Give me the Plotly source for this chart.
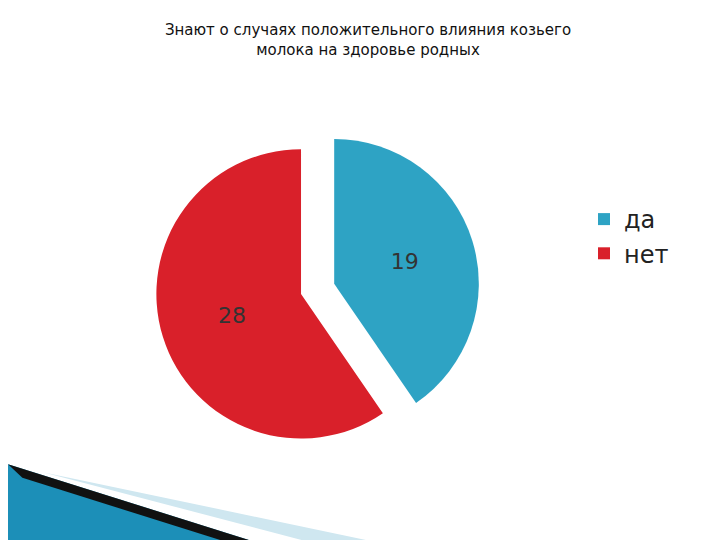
import plotly.graph_objects as go

labels = ["да", "нет"]
values = [19, 28]
colors = ["#2EA3C4", "#D9202A"]

fig = go.Figure()

fig.add_trace(go.Pie(
    labels=labels,
    values=values,
    marker=dict(colors=colors),
    sort=False,
    direction="clockwise",
    rotation=0,
    pull=[0.12, 0.12],
    textinfo="value",
    textposition="inside",
    textfont=dict(size=22, color="#333333", family="DejaVu Sans"),
    domain=dict(x=[0.08, 0.78], y=[0.18, 0.78]),
    hoverinfo="label+value",
))

# decorative swoosh in bottom-left corner
fig.add_shape(type="path", xref="paper", yref="paper",
              path="M 0,0.155 L 0.37,0 L 0,0 Z",
              fillcolor="#1C8FB8", line_width=0, layer="above")
fig.add_shape(type="path", xref="paper", yref="paper",
              path="M 0,0.155 L 0.37,0 L 0.33,0 L 0.02,0.13 Z",
              fillcolor="#111111", line_width=0, layer="above")
fig.add_shape(type="path", xref="paper", yref="paper",
              path="M 0.05,0.14 L 0.55,0 L 0.45,0 Z",
              fillcolor="#CFE7F0", line_width=0, layer="below")

fig.update_layout(
    width=720, height=540,
    paper_bgcolor="white",
    margin=dict(l=0, r=0, t=0, b=0),
    title=dict(
        text="Знают о случаях положительного влияния козьего<br>молока на здоровье родных",
        x=0.5, xanchor="center", y=0.95, yanchor="top",
        font=dict(size=15, color="#111111", family="DejaVu Sans"),
    ),
    legend=dict(
        x=0.8, y=0.65, xanchor="left", yanchor="top",
        font=dict(size=24, color="#222222", family="DejaVu Sans"),
        itemsizing="constant", tracegroupgap=20,
    ),
)

fig.write_html("out.html")
